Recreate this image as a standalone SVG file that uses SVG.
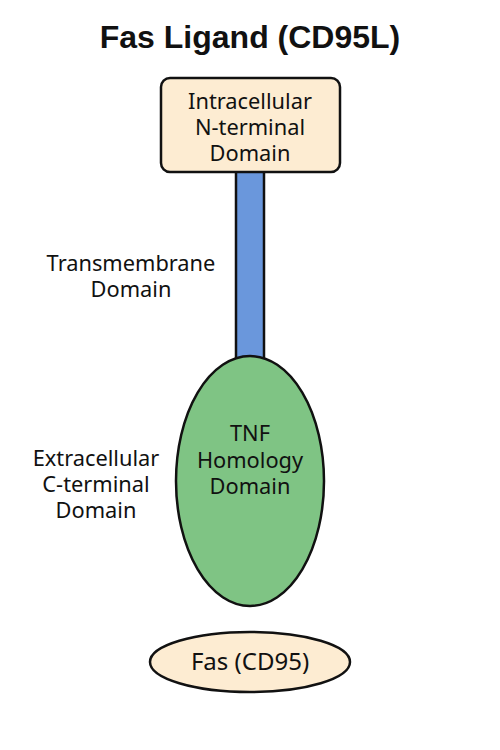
<svg xmlns="http://www.w3.org/2000/svg" width="500" height="750" viewBox="0 0 500 750">
<style>
text{font-family:"Noto Sans","Liberation Sans",Arial,sans-serif;fill:#111;}
.t{font-size:21.8px;text-anchor:middle;}
.st{stroke:#111;stroke-width:2.5;}
</style>
<rect width="500" height="750" fill="#fff"/>
<text x="250" y="48" font-size="32" font-weight="bold" text-anchor="middle" style="font-family:'Liberation Sans',Arial,sans-serif">Fas Ligand (CD95L)</text>
<g id="connectors">
<rect id="transmembrane" x="236" y="171" width="28" height="192" fill="#6a97dc" class="st"/>
</g>
<g id="intracellular">
<rect x="161" y="78" width="179" height="94" rx="9" fill="#fdecd2" class="st"/>
<text class="t" x="250" y="109">Intracellular</text>
<text class="t" x="250" y="135">N-terminal</text>
<text class="t" x="250" y="161">Domain</text>
</g>
<g id="tmlabel">
<text class="t" x="131" y="271">Transmembrane</text>
<text class="t" x="131" y="297">Domain</text>
</g>
<g id="tnf">
<ellipse cx="250" cy="481" rx="74" ry="125" fill="#7fc484" class="st"/>
<text class="t" x="250" y="441">TNF</text>
<text class="t" x="250" y="468">Homology</text>
<text class="t" x="250" y="494">Domain</text>
</g>
<g id="exlabel">
<text class="t" x="96" y="466">Extracellular</text>
<text class="t" x="96" y="492">C-terminal</text>
<text class="t" x="96" y="518">Domain</text>
</g>
<g id="fas">
<ellipse cx="250" cy="662" rx="100" ry="30" fill="#fdecd2" class="st"/>
<text class="t" x="250" y="670" style="font-size:24px">Fas (CD95)</text>
</g>
</svg>
